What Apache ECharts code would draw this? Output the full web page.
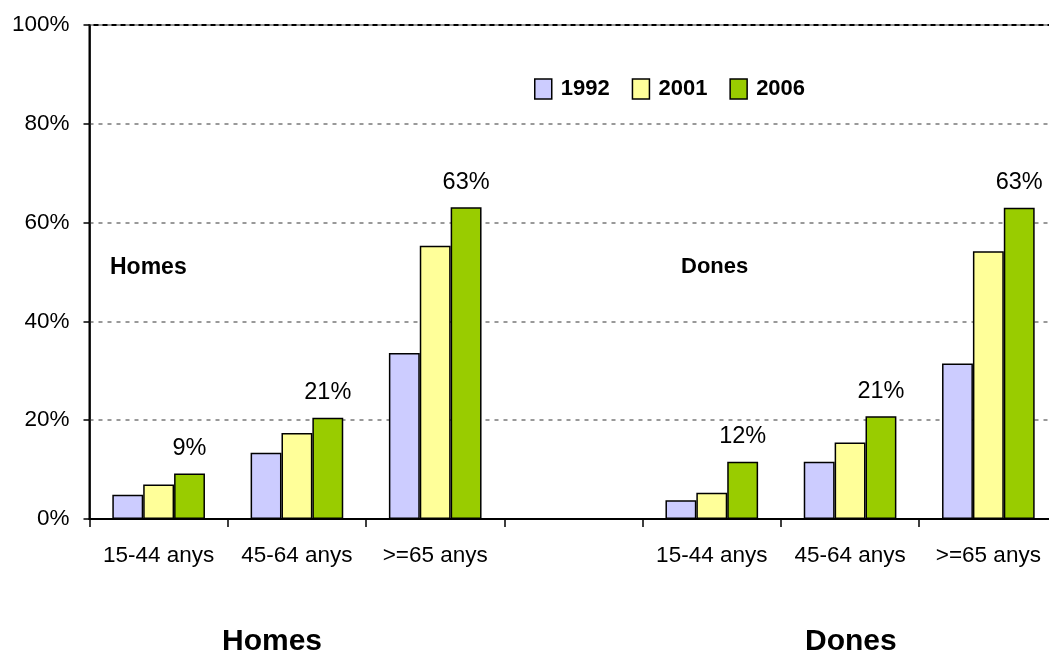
<!DOCTYPE html>
<html>
<head>
<meta charset="utf-8">
<script src="https://cdn.jsdelivr.net/npm/echarts@6/dist/echarts.min.js"></script>
<style>
  html, body { margin: 0; padding: 0; background: #fff; }
  #chart { width: 1049px; height: 660px; }
</style>
</head>
<body>
<div id="chart"></div>
<script>
// categories: Homes (3 groups), empty gap, Dones (3 groups)
const categories = ['15-44 anys', '45-64 anys', '>=65 anys', '', '15-44 anys', '45-64 anys', '>=65 anys'];
const years = ['1992', '2001', '2006'];
const values1992 = [4.9, 13.4, 33.6, null, 3.8, 11.6, 31.5];
const values2001 = [7.0, 17.4, 55.3, null, 5.3, 15.5, 54.2];
const values2006 = [9.2, 20.5, 63.1, null, 11.6, 20.8, 63.0];
const yTicks = [0, 20, 40, 60, 80, 100];
const colors = ['#CCCCFF', '#FFFF99', '#99CC00'];

const font = '"Liberation Sans", Arial, sans-serif';
const chart = echarts.init(document.getElementById('chart'));

const barStyle = (c) => ({ color: c, borderColor: '#000', borderWidth: 1.5 });

chart.setOption({
  animation: false,
  textStyle: { fontFamily: font },
  grid: {
    left: 89.5, width: 968, top: 25, bottom: 141,
    outerBoundsMode: 'none', containLabel: false,
    show: true, borderColor: '#000', borderWidth: 2, backgroundColor: 'transparent'
  },
  legend: {
    data: years,
    left: 534, top: 78, padding: 0,
    itemWidth: 17, itemHeight: 20, itemGap: 22, icon: 'rect',
    textStyle: { fontSize: 22, fontWeight: 'bold', color: '#000', padding: [0, 0, 0, 4] },
    itemStyle: { borderColor: '#000', borderWidth: 1.5 }
  },
  xAxis: {
    type: 'category',
    data: categories,
    axisLine: { lineStyle: { color: '#000', width: 2 } },
    axisTick: { show: true, interval: 0, length: 8, lineStyle: { color: '#000', width: 1.5 } },
    axisLabel: { interval: 0, fontSize: 22.5, color: '#000', margin: 25 },
    splitLine: { show: false }
  },
  yAxis: {
    type: 'value',
    min: yTicks[0], max: yTicks[yTicks.length - 1], interval: 20,
    axisLine: { show: true, lineStyle: { color: '#000', width: 1.5 } },
    axisTick: { show: true, length: 6, lineStyle: { color: '#000', width: 1.5 } },
    axisLabel: { fontSize: 22.5, color: '#000', margin: 20, formatter: '{value}%' },
    splitLine: { show: true, lineStyle: { color: '#999', width: 2, type: [4, 5] } }
  },
  series: [
    { name: years[0], type: 'bar', data: values1992, barGap: '0%', barCategoryGap: '33%', itemStyle: barStyle(colors[0]) },
    { name: years[1], type: 'bar', data: values2001, barGap: '0%', barCategoryGap: '33%', itemStyle: barStyle(colors[1]) },
    {
      name: years[2], type: 'bar', data: values2006, barGap: '0%', barCategoryGap: '33%', itemStyle: barStyle(colors[2]),
      label: {
        show: true, position: 'top', distance: 13, fontSize: 23.5, color: '#000',
        formatter: (p) => Math.round(p.value) + '%'
      }
    }
  ],
  graphic: [
    { type: 'text', left: 110, top: 256, style: { text: 'Homes', font: 'bold 23px ' + font, fill: '#000' } },
    { type: 'text', left: 681, top: 256, style: { text: 'Dones', font: 'bold 22px ' + font, fill: '#000' } },
    { type: 'text', left: 222, top: 627, style: { text: 'Homes', font: 'bold 30px ' + font, fill: '#000' } },
    { type: 'text', left: 805, top: 627, style: { text: 'Dones', font: 'bold 30px ' + font, fill: '#000' } }
  ]
});
</script>
</body>
</html>
